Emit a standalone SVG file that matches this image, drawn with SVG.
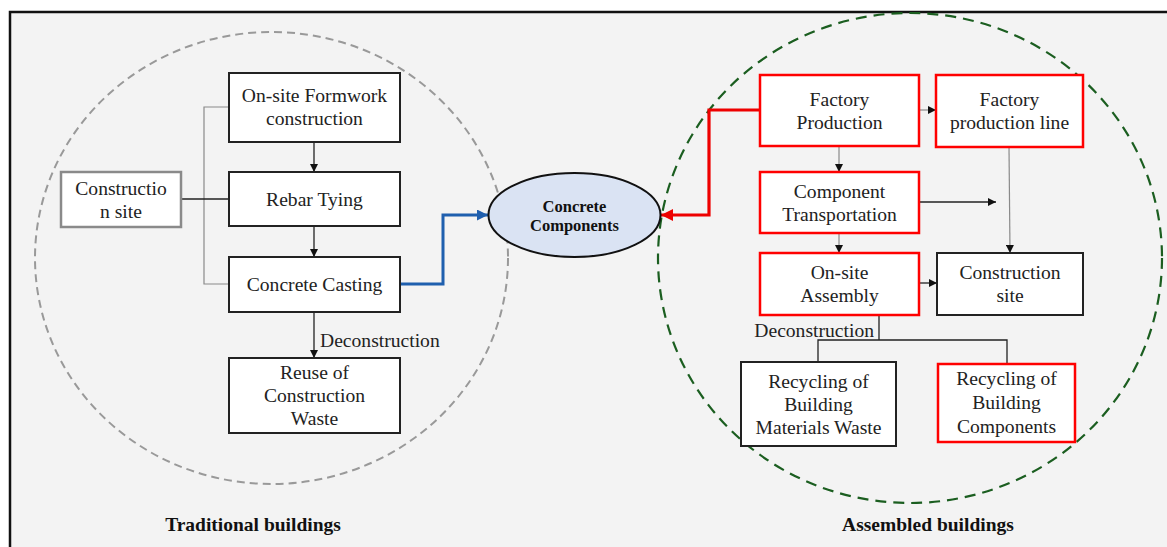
<svg xmlns="http://www.w3.org/2000/svg" width="1167" height="547" viewBox="0 0 1167 547" font-family="'Liberation Serif', 'DejaVu Serif', 'Times New Roman', serif">
  <defs>
    <style>
      .box { fill: #ffffff; stroke: #222222; stroke-width: 2; }
      .red { fill: #ffffff; stroke: #ff0000; stroke-width: 2.5; }
      .gbox { fill: #ffffff; stroke: #8a8a8a; stroke-width: 2.5; }
      .t { font-family: 'Liberation Serif', 'DejaVu Serif', serif; font-size: 19.6px; fill: #222222; text-anchor: middle; }
      .tb { font-family: 'Liberation Serif', 'DejaVu Serif', serif; font-weight: bold; fill: #111111; text-anchor: middle; }
      .ln { fill: none; stroke: #222222; stroke-width: 1.3; }
      .thin { fill: none; stroke: #8a8a8a; stroke-width: 1.2; }
    </style>
    <marker id="ah" viewBox="0 0 10 10" refX="10" refY="5" markerWidth="8" markerHeight="8" markerUnits="userSpaceOnUse" orient="auto">
      <path d="M0,0 L10,5 L0,10 z" fill="#111111"/>
    </marker>
    <marker id="ahBlue" viewBox="0 0 10 10" refX="10" refY="5" markerWidth="11" markerHeight="11" markerUnits="userSpaceOnUse" orient="auto">
      <path d="M0,0 L10,5 L0,10 z" fill="#1f5fae"/>
    </marker>
    <marker id="ahRed" viewBox="0 0 10 10" refX="10" refY="5" markerWidth="12" markerHeight="12" markerUnits="userSpaceOnUse" orient="auto">
      <path d="M0,0 L10,5 L0,10 z" fill="#ee0000"/>
    </marker>
  </defs>

  <!-- page and frame -->
  <rect x="0" y="0" width="1167" height="547" fill="#ffffff"/>
  <rect x="10" y="12" width="1170" height="545" fill="#f3f3f3" stroke="#111111" stroke-width="2.5"/>

  <!-- grouping rings -->
  <ellipse cx="271.5" cy="258" rx="236.5" ry="226" fill="none" stroke="#999999" stroke-width="2" stroke-dasharray="8,5"/>
  <ellipse cx="910" cy="258" rx="252" ry="245" fill="none" stroke="#1b5e20" stroke-width="2.2" stroke-dasharray="11,7"/>

  <!-- connectors -->
  <g id="connectors">
    <!-- traditional side -->
    <path class="thin" d="M229,107 H204 V284 H229"/>
    <path class="ln" d="M181,199 H229"/>
    <path class="ln" d="M314,142 V172" marker-end="url(#ah)"/>
    <path class="ln" d="M314,226 V257" marker-end="url(#ah)"/>
    <path class="ln" d="M314,312 V358" marker-end="url(#ah)"/>
    <path d="M400,284 H443 V215 H488" fill="none" stroke="#1f5fae" stroke-width="3" marker-end="url(#ahBlue)"/>
    <!-- assembled side -->
    <path d="M760,110 H709 V215 H661" fill="none" stroke="#ee0000" stroke-width="3.2" marker-end="url(#ahRed)"/>
    <path class="thin" d="M919,110 H936" stroke="#555555" marker-end="url(#ah)"/>
    <path class="thin" d="M839,146 V172" stroke="#555555" marker-end="url(#ah)"/>
    <path class="ln" d="M919,202 H996" marker-end="url(#ah)"/>
    <path class="thin" d="M1009,147 L1010,253" marker-end="url(#ah)"/>
    <path class="thin" d="M839,233 V253" stroke="#555555" marker-end="url(#ah)"/>
    <path class="ln" d="M919,283 H937" marker-end="url(#ah)"/>
    <path class="ln" d="M879,315 V340 M818,362 V340 H1007 V364"/>
  </g>

  <!-- traditional buildings -->
  <g id="formwork">
    <rect class="box" x="229" y="73" width="171" height="69"/>
    <text class="t" x="314.5" y="102">On-site Formwork</text>
    <text class="t" x="314.5" y="125">construction</text>
  </g>
  <g id="rebar">
    <rect class="box" x="229" y="172" width="171" height="54"/>
    <text class="t" x="314.5" y="206">Rebar Tying</text>
  </g>
  <g id="casting">
    <rect class="box" x="229" y="257" width="171" height="55"/>
    <text class="t" x="314.5" y="291">Concrete Casting</text>
  </g>
  <g id="reuse">
    <rect class="box" x="229" y="358" width="171" height="75"/>
    <text class="t" x="314.5" y="379">Reuse of</text>
    <text class="t" x="314.5" y="402">Construction</text>
    <text class="t" x="314.5" y="425">Waste</text>
  </g>
  <g id="site-left">
    <rect class="gbox" x="61" y="172" width="120" height="55"/>
    <text class="t" x="121" y="195">Constructio</text>
    <text class="t" x="121" y="218">n site</text>
  </g>
  <text class="t" x="320" y="347" style="text-anchor:start">Deconstruction</text>

  <!-- shared product -->
  <g id="components">
    <ellipse cx="574.5" cy="215" rx="86" ry="42" fill="#dae3f3" stroke="#111111" stroke-width="2"/>
    <text class="tb" x="574.5" y="212" font-size="16.5">Concrete</text>
    <text class="tb" x="574.5" y="231" font-size="16.5">Components</text>
  </g>

  <!-- assembled buildings -->
  <g id="factory">
    <rect class="red" x="760" y="75" width="159" height="71"/>
    <text class="t" x="839.5" y="106">Factory</text>
    <text class="t" x="839.5" y="129">Production</text>
  </g>
  <g id="line">
    <rect class="red" x="936" y="75" width="147" height="72"/>
    <text class="t" x="1009.5" y="106">Factory</text>
    <text class="t" x="1009.5" y="129">production line</text>
  </g>
  <g id="transport">
    <rect class="red" x="760" y="172" width="159" height="61"/>
    <text class="t" x="839.5" y="198">Component</text>
    <text class="t" x="839.5" y="221">Transportation</text>
  </g>
  <g id="assembly">
    <rect class="red" x="760" y="253" width="159" height="62"/>
    <text class="t" x="839.5" y="279">On-site</text>
    <text class="t" x="839.5" y="302">Assembly</text>
  </g>
  <g id="site-right">
    <rect class="box" x="937" y="253" width="146" height="62"/>
    <text class="t" x="1010" y="279">Construction</text>
    <text class="t" x="1010" y="302">site</text>
  </g>
  <g id="waste">
    <rect class="box" x="741" y="362" width="155" height="84"/>
    <text class="t" x="818.5" y="388">Recycling of</text>
    <text class="t" x="818.5" y="411">Building</text>
    <text class="t" x="818.5" y="434">Materials Waste</text>
  </g>
  <g id="recomp">
    <rect class="red" x="938" y="364" width="137" height="78"/>
    <text class="t" x="1006.5" y="385">Recycling of</text>
    <text class="t" x="1006.5" y="409">Building</text>
    <text class="t" x="1006.5" y="433">Components</text>
  </g>
  <text class="t" x="874" y="337" style="text-anchor:end">Deconstruction</text>

  <!-- captions -->
  <text class="tb" x="253" y="531" font-size="19.5">Traditional buildings</text>
  <text class="tb" x="928" y="531" font-size="19.5">Assembled buildings</text>
</svg>
